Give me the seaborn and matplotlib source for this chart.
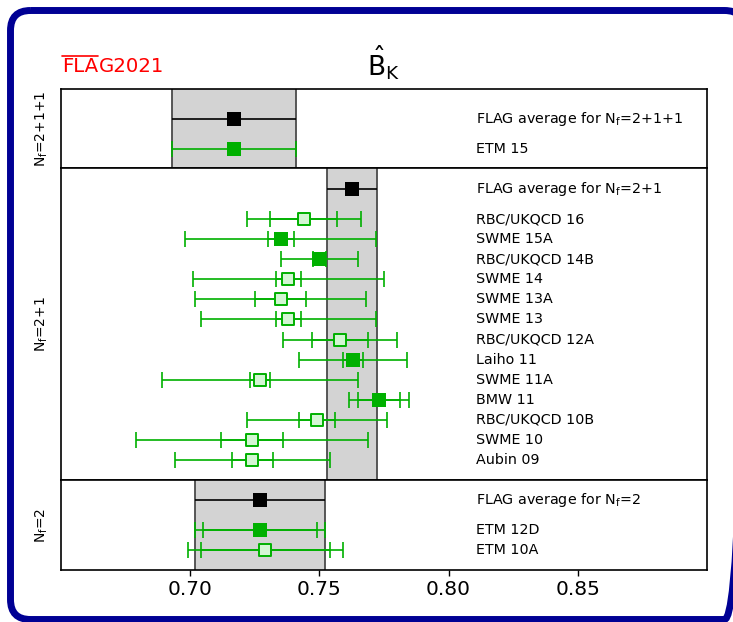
import numpy as np
import pandas as pd
import matplotlib
matplotlib.use("Agg")
import matplotlib.pyplot as plt
from matplotlib.patches import FancyBboxPatch
from matplotlib.lines import Line2D
import seaborn as sns

# ---------------- B_K results: central value, statistical error, total error ----------------
panel_titles = [r"N$_\mathrm{f}$=2+1+1", r"N$_\mathrm{f}$=2+1", r"N$_\mathrm{f}$=2"]
avg_labels = [r"FLAG average for N$_\mathrm{f}$=2+1+1",
              r"FLAG average for N$_\mathrm{f}$=2+1",
              r"FLAG average for N$_\mathrm{f}$=2"]
avg_values = [0.717, 0.7625, 0.727]
avg_errors = [0.024, 0.0097, 0.025]

nf4_studies = ["ETM 15"]
nf4_values = [0.717]
nf4_stat = [np.nan]
nf4_total = [0.024]
nf4_filled = [True]

nf3_studies = ["RBC/UKQCD 16", "SWME 15A", "RBC/UKQCD 14B", "SWME 14", "SWME 13A",
               "SWME 13", "RBC/UKQCD 12A", "Laiho 11", "SWME 11A", "BMW 11",
               "RBC/UKQCD 10B", "SWME 10", "Aubin 09"]
nf3_values = [0.744, 0.735, 0.750, 0.738, 0.735, 0.738, 0.758, 0.763, 0.727, 0.773,
              0.749, 0.724, 0.724]
nf3_stat = [0.013, 0.005, 0.0024, 0.0047, 0.010, 0.0048, 0.011, 0.0037, 0.004, 0.0081,
            0.007, 0.012, 0.008]
nf3_total = [0.022, 0.037, 0.015, 0.037, 0.033, 0.034, 0.022, 0.021, 0.038, 0.0117,
             0.027, 0.045, 0.030]
nf3_filled = [False, True, True, False, False, False, False, True, False, True,
              False, False, False]

nf2_studies = ["ETM 12D", "ETM 10A"]
nf2_values = [0.727, 0.729]
nf2_stat = [0.022, 0.025]
nf2_total = [0.025, 0.030]
nf2_filled = [True, False]

x_ticks = [0.70, 0.75, 0.80, 0.85]
x_range = (0.65, 0.90)

# ---------------- style ----------------
sns.set_theme(style="white")
plt.rcParams["font.family"] = ["DejaVu Sans"]
plt.rcParams["mathtext.fontset"] = "dejavusans"
plt.rcParams["text.color"] = "black"
plt.rcParams["xtick.color"] = "black"
plt.rcParams["xtick.labelcolor"] = "black"

GREEN = "#00b000"
LIGHT = "#d4f6d4"
BAND = "#d3d3d3"
BAND_EDGE = "#4a4a4a"
LABEL_X = 0.8105
LABEL_SIZE = 10.3

W, H = 733, 622
fig = plt.figure(figsize=(W / 100, H / 100), dpi=100)
fig.patch.set_facecolor("white")
gs = fig.add_gridspec(3, 1, height_ratios=[79, 312, 90], hspace=0,
                      left=61 / W, right=707 / W, bottom=1 - 570 / H, top=1 - 89 / H)
axes = [fig.add_subplot(gs[0])]
axes.append(fig.add_subplot(gs[1], sharex=axes[0]))
axes.append(fig.add_subplot(gs[2], sharex=axes[0]))

panels = [
    (nf4_studies, nf4_values, nf4_stat, nf4_total, nf4_filled, (2.45, -1.5)),
    (nf3_studies, nf3_values, nf3_stat, nf3_total, nf3_filled, (14.5, -1.05)),
    (nf2_studies, nf2_values, nf2_stat, nf2_total, nf2_filled, (3.5, -1.0)),
]

for i, (ax, (studies, values, stat, total, filled, ylim)) in enumerate(zip(axes, panels)):
    ax.set_facecolor("white")
    lo, hi = avg_values[i] - avg_errors[i], avg_values[i] + avg_errors[i]
    ax.axvspan(lo, hi, color=BAND, lw=0, zorder=0)
    for edge in (lo, hi):
        ax.axvline(edge, color=BAND_EDGE, lw=1.3, zorder=1)

    # average row
    ax.errorbar([avg_values[i]], [0.0], xerr=[avg_errors[i]], fmt="none",
                ecolor="black", elinewidth=1.2, capsize=0, zorder=3)
    avg_df = pd.DataFrame({"value": [avg_values[i]], "row": [0.0]})
    sns.scatterplot(data=avg_df, x="value", y="row", marker="s", s=88, color="black",
                    linewidth=0, ax=ax, legend=False, zorder=5)
    ax.text(LABEL_X, 0.0, avg_labels[i], fontsize=LABEL_SIZE, ha="left", va="center")

    # individual results
    df = pd.DataFrame({"study": studies, "value": values, "stat": stat,
                       "total": total, "filled": filled})
    df["row"] = 1.5 + np.arange(len(df))
    ax.errorbar(df["value"], df["row"], xerr=df["total"], fmt="none", ecolor=GREEN,
                elinewidth=1.2, capsize=5.5, capthick=1.2, zorder=3)
    has_stat = df[np.isfinite(df["stat"])]
    if len(has_stat):
        ax.errorbar(has_stat["value"], has_stat["row"], xerr=has_stat["stat"], fmt="none",
                    ecolor=GREEN, elinewidth=1.2, capsize=5.5, capthick=1.2, zorder=3)
    full = df[df["filled"]]
    hollow = df[~df["filled"]]
    if len(full):
        sns.scatterplot(data=full, x="value", y="row", marker="s", s=88, color=GREEN,
                        linewidth=0, ax=ax, legend=False, zorder=5)
    if len(hollow):
        sns.scatterplot(data=hollow, x="value", y="row", marker="s", s=66, color=LIGHT,
                        edgecolor=GREEN, linewidth=1.4, ax=ax, legend=False, zorder=5)
    for _, r in df.iterrows():
        ax.text(LABEL_X, r["row"], r["study"], fontsize=LABEL_SIZE, ha="left", va="center")

    ax.set_ylim(*ylim)
    ax.set_yticks([])
    ax.set_xlabel("")
    ax.set_ylabel("")
    ax.text(-0.029, 0.5, panel_titles[i], transform=ax.transAxes, rotation=90,
            ha="center", va="center", fontsize=10)
    for sp in ax.spines.values():
        sp.set_color("black")
        sp.set_linewidth(1.2)
    if i < 2:
        ax.tick_params(axis="x", bottom=False, labelbottom=False)

axes[0].set_xlim(*x_range)
axes[2].set_xticks(x_ticks)
axes[2].set_xticklabels([f"{t:.2f}" for t in x_ticks])
axes[2].tick_params(axis="x", bottom=True, direction="out", length=4, width=1,
                    labelsize=14.5, color="black", labelcolor="black", pad=3.5)

# title
fig.text(383 / W, 1 - 75 / H, r"$\hat{\mathrm{B}}_\mathrm{K}$", fontsize=19,
         ha="center", va="baseline")

# FLAG 2021 logo: "FLA" carries a bar on top
renderer = fig.canvas.get_renderer()
logo_size = 14.2
baseline = 1 - 72 / H
fla = fig.text(62 / W, baseline, "FLA", color="red", fontsize=logo_size,
               ha="left", va="baseline")
bb = fla.get_window_extent(renderer)
fig.text((bb.x1 + 1) / W, baseline, "G2021", color="red", fontsize=logo_size,
         ha="left", va="baseline")
bar_y = baseline + (0.729 * logo_size * 100 / 72 + 1.5) / H
fig.add_artist(Line2D([bb.x0 / W, bb.x1 / W], [bar_y, bar_y], color="red",
                      lw=1.2, transform=fig.transFigure))

# rounded frame around the whole figure, drawn on an overlay in pixel units
overlay = fig.add_axes([0, 0, 1, 1], zorder=20)
overlay.set_xlim(0, W)
overlay.set_ylim(H, 0)
overlay.axis("off")
overlay.patch.set_alpha(0)
frame = FancyBboxPatch((10.5, 10.5), 734, 609,
                       boxstyle="round,pad=0,rounding_size=20",
                       facecolor="none", edgecolor="#000094", linewidth=5.0)
overlay.add_patch(frame)

fig.savefig("out.png", dpi=100)
